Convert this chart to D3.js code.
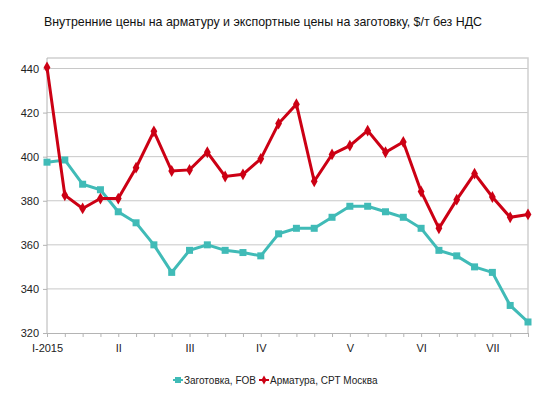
<!DOCTYPE html>
<html>
<head>
<meta charset="utf-8">
<script src="https://cdn.jsdelivr.net/npm/d3@7"></script>
<style>
    body { margin: 0; background: #fff; }
    svg { font-family: Arial, "Liberation Sans", sans-serif; }
</style>
</head>
<body>
<div id="chart"></div>
<script>
// weekly points, Jan..Jul 2015
const monthLabels = ["I-2015", "", "", "", "II", "", "", "", "III", "", "", "", "IV", "", "", "", "", "V", "", "", "", "VI", "", "", "", "VII", "", ""];
const billet = [397.5, 398.5, 387.5, 385, 375, 370, 360, 347.5, 357.5, 360, 357.5, 356.5, 355, 365, 367.5, 367.5, 372.5, 377.5, 377.5, 375, 372.5, 367.5, 357.5, 355, 350, 347.5, 332.5, 325];
const rebar = [440.5, 382.5, 376.5, 381, 381, 395, 411.5, 393.5, 394, 402, 391, 392, 399, 415, 423.8, 388.8, 401, 405, 411.8, 402, 406.7, 384.2, 367.5, 380.5, 392.3, 381.7, 372.5, 373.8];
const yTicks = [320, 340, 360, 380, 400, 420, 440];

const width = 550, height = 395;
const plotL = 47, plotR = 528, plotT = 58, plotB = 333;

const svg = d3.select("#chart").append("svg")
    .attr("width", width)
    .attr("height", height);

const x = d3.scalePoint()
    .domain(d3.range(monthLabels.length))
    .range([plotL, plotR]);

const y = d3.scaleLinear()
    .domain([320, 440])
    .range([plotB, 68.5]);

// gridlines
svg.append("g")
    .selectAll("line")
    .data(yTicks.slice(1))
    .enter().append("line")
    .attr("x1", plotL).attr("x2", plotR)
    .attr("y1", d => y(d)).attr("y2", d => y(d))
    .style("stroke", "#c8c8c8")
    .style("stroke-width", 1);

// plot frame top/right
svg.append("path")
    .attr("d", `M${plotL},${plotT}H${plotR}V${plotB}`)
    .attr("fill", "none")
    .style("stroke", "#d0d0d0")
    .style("stroke-width", 1.5);

// y axis
const yAxis = svg.append("g")
    .attr("transform", `translate(${plotL},0)`)
    .call(d3.axisLeft(y).tickValues(yTicks).tickSize(4).tickPadding(4));
yAxis.select(".domain").attr("d", `M0,${plotT}V${plotB}`);

// x axis
const xAxis = svg.append("g")
    .attr("transform", `translate(0,${plotB})`)
    .call(d3.axisBottom(x).tickSize(4).tickPadding(5).tickFormat(i => monthLabels[i]));

svg.selectAll(".domain, .tick line")
    .style("stroke", "#b4b4b4");
svg.selectAll(".tick text")
    .style("font-size", "11px")
    .style("fill", "#222");
xAxis.selectAll(".tick text").attr("dy", "0.9em");

const line = d3.line()
    .x((d, i) => x(i))
    .y(d => y(d));

const teal = "#40bbb7";
const red = "#cc0014";

svg.append("path")
    .datum(billet)
    .attr("d", line)
    .attr("fill", "none")
    .style("stroke", teal)
    .style("stroke-width", 3);

svg.append("g")
    .selectAll("rect")
    .data(billet)
    .enter().append("rect")
    .attr("x", (d, i) => x(i) - 3.5)
    .attr("y", d => y(d) - 3.5)
    .attr("width", 7)
    .attr("height", 7)
    .attr("fill", teal);

svg.append("path")
    .datum(rebar)
    .attr("d", line)
    .attr("fill", "none")
    .style("stroke", red)
    .style("stroke-width", 3);

const diamond = d3.symbol().type(d3.symbolDiamond).size(40);
svg.append("g")
    .selectAll("path")
    .data(rebar)
    .enter().append("path")
    .attr("transform", (d, i) => `translate(${x(i)},${y(d)})`)
    .attr("d", diamond)
    .attr("fill", red);

// title
svg.append("text")
    .attr("x", 263)
    .attr("y", 26)
    .attr("text-anchor", "middle")
    .style("font-size", "12.4px")
    .style("fill", "#111")
    .text("Внутренние цены на арматуру и экспортные цены на заготовку, $/т без НДС");

// legend
const legend = svg.append("g").attr("transform", "translate(0,380)");
const items = [
    { name: "Заготовка, FOB", color: teal, x: 173, mark: "square" },
    { name: "Арматура, CPT Москва", color: red, x: 259, mark: "diamond" }
];
const smallDiamond = d3.symbol().type(d3.symbolDiamond).size(24);
items.forEach(it => {
    legend.append("line")
        .attr("x1", it.x).attr("x2", it.x + 10)
        .attr("y1", 0).attr("y2", 0)
        .style("stroke", it.color)
        .style("stroke-width", 2);
    if (it.mark === "square") {
        legend.append("rect")
            .attr("x", it.x + 2).attr("y", -3)
            .attr("width", 6).attr("height", 6)
            .attr("fill", it.color);
    } else {
        legend.append("path")
            .attr("transform", `translate(${it.x + 5},0)`)
            .attr("d", smallDiamond)
            .attr("fill", it.color);
    }
    legend.append("text")
        .attr("x", it.x + 11)
        .attr("y", 4)
        .style("font-size", "10px")
        .style("fill", "#222")
        .text(it.name);
});
</script>
</body>
</html>
